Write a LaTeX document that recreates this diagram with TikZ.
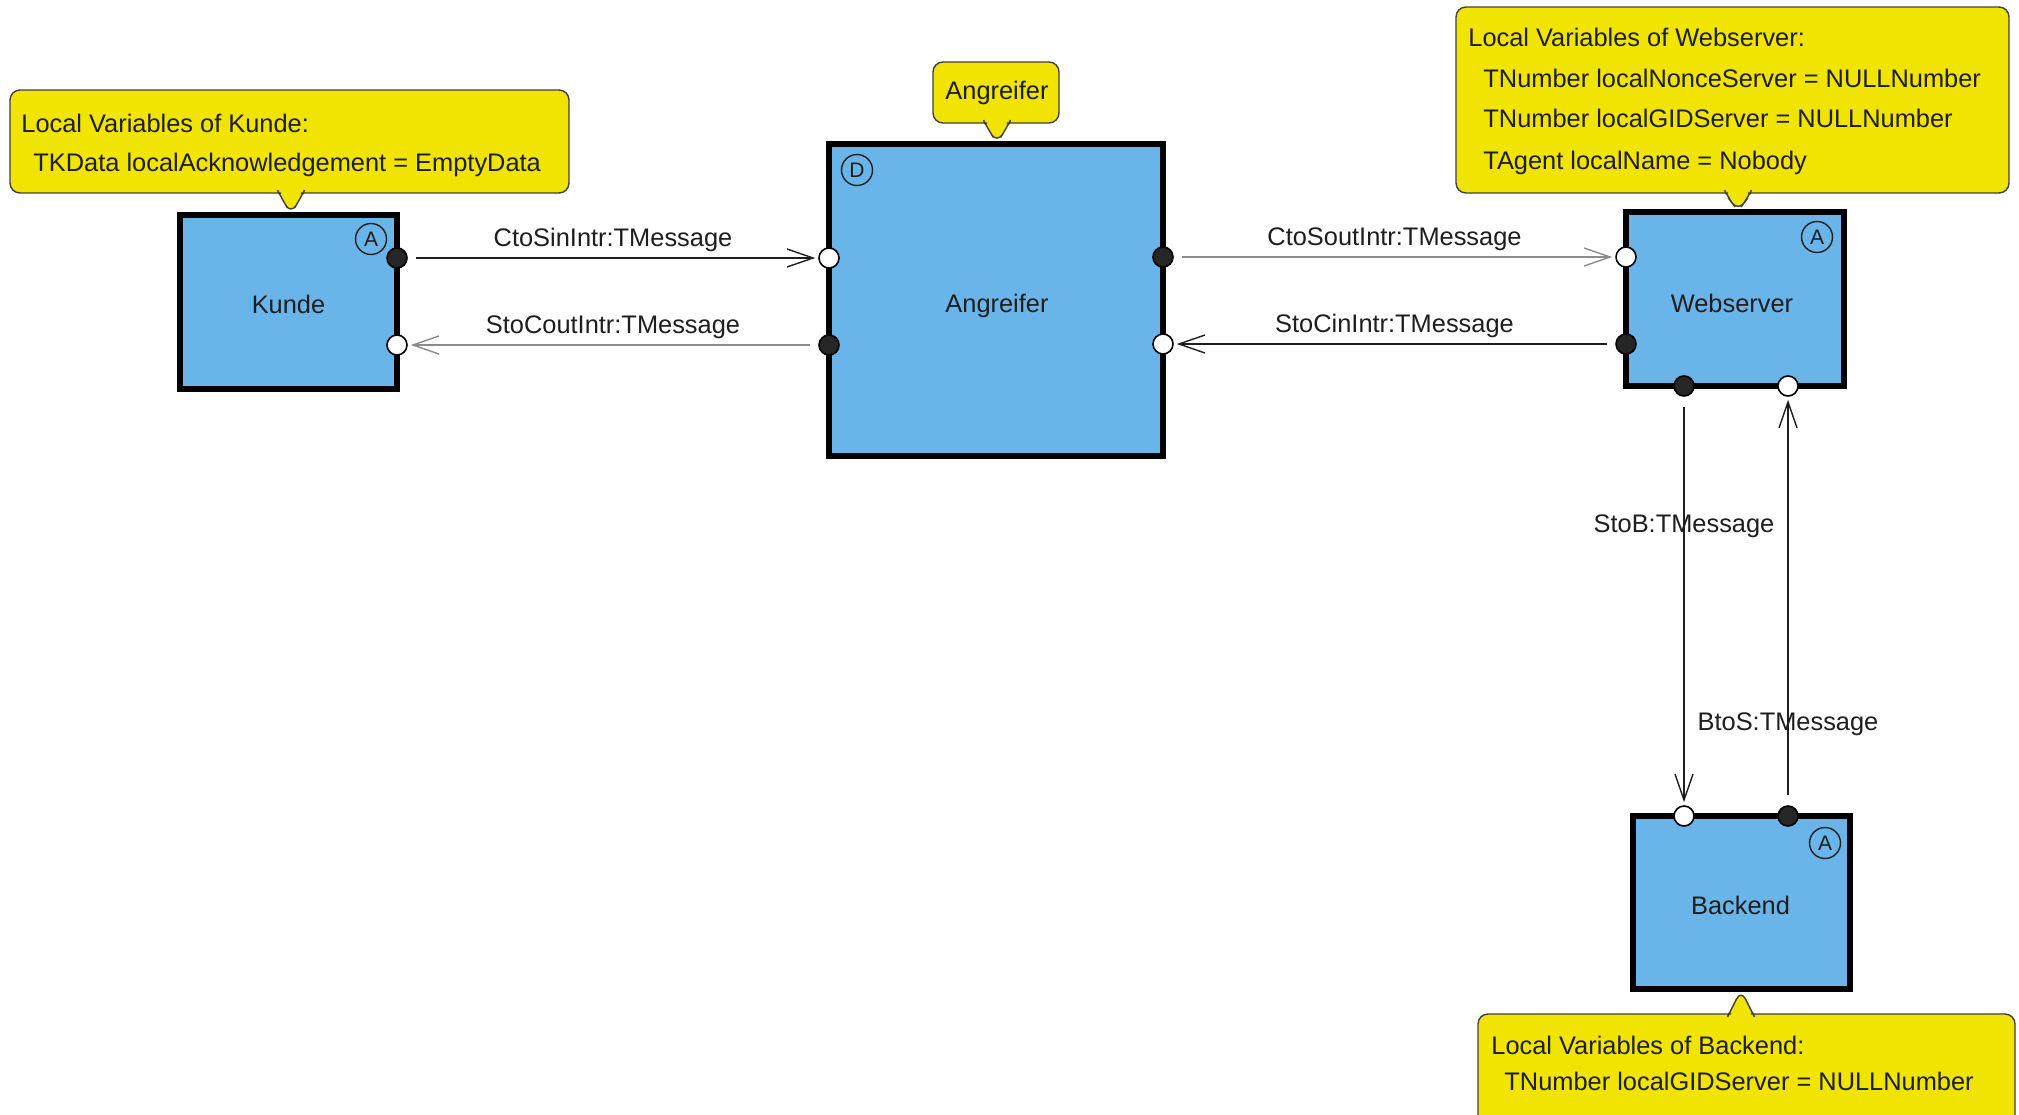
\documentclass[tikz,border=0pt]{standalone}
\usepackage{fontspec}
\setmainfont{Liberation Sans}
\usetikzlibrary{arrows.meta,calc}
\definecolor{boxblue}{RGB}{105,180,232}
\definecolor{calloutyellow}{RGB}{240,228,0}
\definecolor{inkdark}{RGB}{30,30,30}
\definecolor{linegray}{RGB}{140,140,140}
\newcommand\mysz{\fontsize{12.7}{15}\selectfont}
\begin{document}
\begin{tikzpicture}[x=0.5pt,y=-0.5pt,
  every node/.style={font=\mysz, text=inkdark},
  compbox/.style={draw=black, line width=2.6pt, fill=boxblue, inner sep=0pt, outer sep=0pt},
  boxlab/.style={inner sep=0pt, text depth=0pt},
  portfilled/.style={circle, draw=black, fill=black!85, line width=0.8pt, minimum size=10pt, inner sep=0pt},
  portopen/.style={circle, draw=black, fill=white, line width=0.8pt, minimum size=10pt, inner sep=0pt},
  kindmark/.style={circle, draw=inkdark, line width=0.7pt, minimum size=15.5pt, inner sep=0pt, font=\fontsize{10.5}{12}\selectfont},
  callout/.style={fill=calloutyellow, draw=black!75, line width=0.7pt, rounded corners=5pt},
  txt/.style={anchor=base west, inner sep=0pt},
  conn/.style={line width=0.7pt, draw=inkdark, -{Straight Barb[length=13pt,width=9pt,line width=0.7pt]}, shorten <=4pt, shorten >=1.5pt},
  graycon/.style={conn, draw=linegray},
  hlab/.style={midway, above=3pt, inner sep=0pt},
  vlab/.style={inner sep=0pt}]
\useasboundingbox (0,0) rectangle (2019,1114);
\fill[white] (0,0) rectangle (2019,1114);

% callouts
\draw[callout] (10,90) -- (569,90) -- (569,193) -- (311,193) .. controls (305,193) and (302,195) .. (300,199) .. controls (295.5,206.5) .. (291,214) .. controls (286.5,206.5) .. (282,199) .. controls (280,195) and (277,193) .. (271,193) -- (10,193) -- cycle;
\node[txt] (kv1) at (21,132) {Local Variables of Kunde:};
\node[txt] (kv2) at (33,171) {TKData localAcknowledgement = EmptyData};

\draw[callout] (933,62) -- (1059,62) -- (1059,123) -- (1017,123) .. controls (1011,123) and (1008,125) .. (1006,129) .. controls (1001.5,136) .. (997,143) .. controls (992.5,136) .. (988,129) .. controls (986,125) and (983,123) .. (977,123) -- (933,123) -- cycle;
\node[anchor=base, inner sep=0pt] (av1) at (997,99) {Angreifer};

\draw[callout] (1456,7) -- (2009,7) -- (2009,193) -- (1758,193) .. controls (1752,193) and (1749,195) .. (1747,199) .. controls (1742.5,205) .. (1738,211) .. controls (1733.5,205) .. (1729,199) .. controls (1727,195) and (1724,193) .. (1718,193) -- (1456,193) -- cycle;
\node[txt] (wv1) at (1468,46) {Local Variables of Webserver:};
\node[txt] (wv2) at (1483,87) {TNumber localNonceServer = NULLNumber};
\node[txt] (wv3) at (1483,127) {TNumber localGIDServer = NULLNumber};
\node[txt] (wv4) at (1483,169) {TAgent localName = Nobody};

\draw[callout] (1478,1014) -- (1721,1014) .. controls (1727,1014) and (1730,1012) .. (1732,1008) .. controls (1736.5,999) .. (1741,990) .. controls (1745.5,999) .. (1750,1008) .. controls (1752,1012) and (1755,1014) .. (1761,1014) -- (2015,1014) -- (2015,1140) -- (1478,1140) -- cycle;
\node[txt] (bv1) at (1491,1054) {Local Variables of Backend:};
\node[txt] (bv2) at (1504,1090) {TNumber localGIDServer = NULLNumber};

% components
\node[compbox, minimum width=108.5pt, minimum height=87pt] (kunde) at (288.5,302) {};
\node[compbox, minimum width=167pt, minimum height=156pt] (ang) at (996,300) {};
\node[compbox, minimum width=109pt, minimum height=87pt] (web) at (1735,299) {};
\node[compbox, minimum width=108.5pt, minimum height=86.5pt] (back) at (1741.5,902.5) {};

\node[boxlab] (kundelab) at ($(kunde.center)+(0,2)$) {Kunde};
\node[boxlab] (anglab) at ($(ang.center)+(1,3)$) {Angreifer};
\node[boxlab] (weblab) at ($(web.center)+(-3,4)$) {Webserver};
\node[boxlab] (backlab) at ($(back.center)+(-1,3)$) {Backend};

\node[kindmark] (ka) at ($(kunde.north east)+(-26,24)$) {A};
\node[kindmark] (ad) at ($(ang.north west)+(28,26)$) {D};
\node[kindmark] (wa) at ($(web.north east)+(-27,25)$) {A};
\node[kindmark] (ba) at ($(back.north east)+(-25,27)$) {A};

% ports
\node[portfilled] (kout) at (kunde.east |- 0,258) {};
\node[portopen]   (kin)  at (kunde.east |- 0,345) {};
\node[portopen]   (ain)  at (ang.west |- 0,258) {};
\node[portfilled] (aout) at (ang.west |- 0,345) {};
\node[portfilled] (aout2) at (ang.east |- 0,257) {};
\node[portopen]   (ain2) at (ang.east |- 0,344) {};
\node[portopen]   (win)  at (web.west |- 0,257) {};
\node[portfilled] (wout) at (web.west |- 0,344) {};
\node[portfilled] (wsb)  at (web.south -| 1684,0) {};
\node[portopen]   (wbi)  at (web.south -| 1788,0) {};
\node[portopen]   (bin)  at (back.north -| 1684,0) {};
\node[portfilled] (bout) at (back.north -| 1788,0) {};

% connectors
\draw[conn] (kout) -- node[hlab] (l1) {CtoSinIntr:TMessage} (ain);
\draw[graycon] (aout) -- node[hlab] (l2) {StoCoutIntr:TMessage} (kin);
\draw[graycon] (aout2) -- node[hlab] (l3) {CtoSoutIntr:TMessage} (win);
\draw[conn] (wout) -- node[hlab] (l4) {StoCinIntr:TMessage} (ain2);
\draw[conn, shorten <=5pt] (wsb) -- node[vlab, pos=0.317] (l5) {StoB:TMessage} (bin);
\draw[conn, shorten <=5pt] (bout) -- node[vlab, pos=0.198] (l6) {BtoS:TMessage} (wbi);
\end{tikzpicture}
\end{document}
